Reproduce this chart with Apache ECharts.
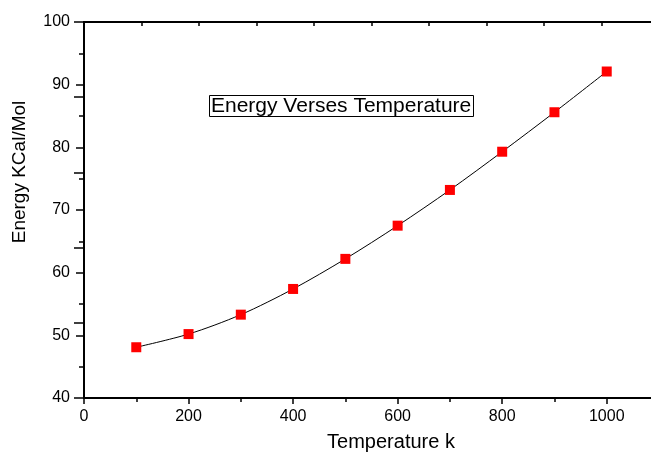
<!DOCTYPE html>
<html>
<head>
<meta charset="utf-8">
<script src="https://cdn.jsdelivr.net/npm/echarts@6/dist/echarts.min.js"></script>
<style>
html, body { margin: 0; padding: 0; background: #fff; }
#main { width: 651px; height: 454px; }
</style>
</head>
<body>
<div id="main"></div>
<script>
// data
var temps = [100, 200, 300, 400, 500, 600, 700, 800, 900, 1000];
var energy = [48.1, 50.2, 53.3, 57.4, 62.2, 67.5, 73.2, 79.3, 85.6, 92.1];

var chartTitle = 'Energy Verses Temperature';
var xName = 'Temperature k';
var yName = 'Energy KCal/Mol';

var pts = [];
for (var i = 0; i < temps.length; i++) {
    pts.push([temps[i], energy[i]]);
}

var myChart = echarts.init(document.getElementById('main'));
var font = 'Liberation Sans, Arial, sans-serif';

var option = {
    backgroundColor: '#fff',
    animation: false,
    title: {
        text: chartTitle,
        left: 209,
        top: 95,
        padding: [1, 2, 0, 2],
        borderColor: '#000',
        borderWidth: 1,
        textStyle: { fontFamily: font, fontSize: 21, fontWeight: 'normal', color: '#000' }
    },
    // axis names sit off-centre in the original, so draw them by hand
    graphic: [
        {
            type: 'text', x: 20, y: 172, rotation: Math.PI / 2,
            style: { text: yName, fontFamily: font, fontSize: 19, fill: '#000', align: 'center', verticalAlign: 'middle' }
        },
        {
            type: 'text', x: 391, y: 442,
            style: { text: xName, fontFamily: font, fontSize: 20, fill: '#000', align: 'center', verticalAlign: 'middle' }
        }
    ],
    // plot box runs a little past the right edge of the page
    grid: { left: 84, top: 22, width: 575, height: 376, outerBoundsMode: 'none', containLabel: false },
    xAxis: [
        {
            type: 'value', min: 0, max: 1100, interval: 200,
            axisLine: { lineStyle: { color: '#000', width: 2 } },
            axisTick: { length: 6, lineStyle: { color: '#000', width: 1.5 } },
            minorTick: { show: true, splitNumber: 2, length: 4, lineStyle: { color: '#000', width: 1.5 } },
            axisLabel: {
                margin: 11, showMaxLabel: false, fontFamily: font, fontSize: 16, color: '#000',
                formatter: function (v) { return String(v); }
            },
            splitLine: { show: false }
        },
        {
            // top frame edge, Origin style
            type: 'value', position: 'top', min: 0, max: 10, interval: 1,
            axisLine: { lineStyle: { color: '#000', width: 2 } },
            axisTick: { inside: true, length: 4, lineStyle: { color: '#000', width: 1.5 } },
            axisLabel: { show: false },
            splitLine: { show: false }
        }
    ],
    yAxis: [
        {
            type: 'value', min: 40, max: 100, interval: 10,
            axisLine: { lineStyle: { color: '#000', width: 2 } },
            axisTick: { length: 8, lineStyle: { color: '#000', width: 1.5 } },
            minorTick: { show: true, splitNumber: 2, length: 5, lineStyle: { color: '#000', width: 1.5 } },
            axisLabel: { margin: 14, fontFamily: font, fontSize: 16, color: '#000' },
            splitLine: { show: false }
        },
        {
            // right frame edge, mostly off the page
            type: 'value', position: 'right', min: 0, max: 5, interval: 1,
            axisLine: { lineStyle: { color: '#000', width: 2 } },
            axisTick: { inside: true, length: 10, lineStyle: { color: '#000', width: 1.5 } },
            axisLabel: { show: false },
            splitLine: { show: false }
        }
    ],
    series: [
        {
            type: 'line',
            data: pts,
            smooth: 0.3,
            symbol: 'rect',
            symbolSize: 10,
            itemStyle: { color: '#ff0000' },
            lineStyle: { color: '#000', width: 1 }
        }
    ]
};
myChart.setOption(option);
</script>
</body>
</html>
